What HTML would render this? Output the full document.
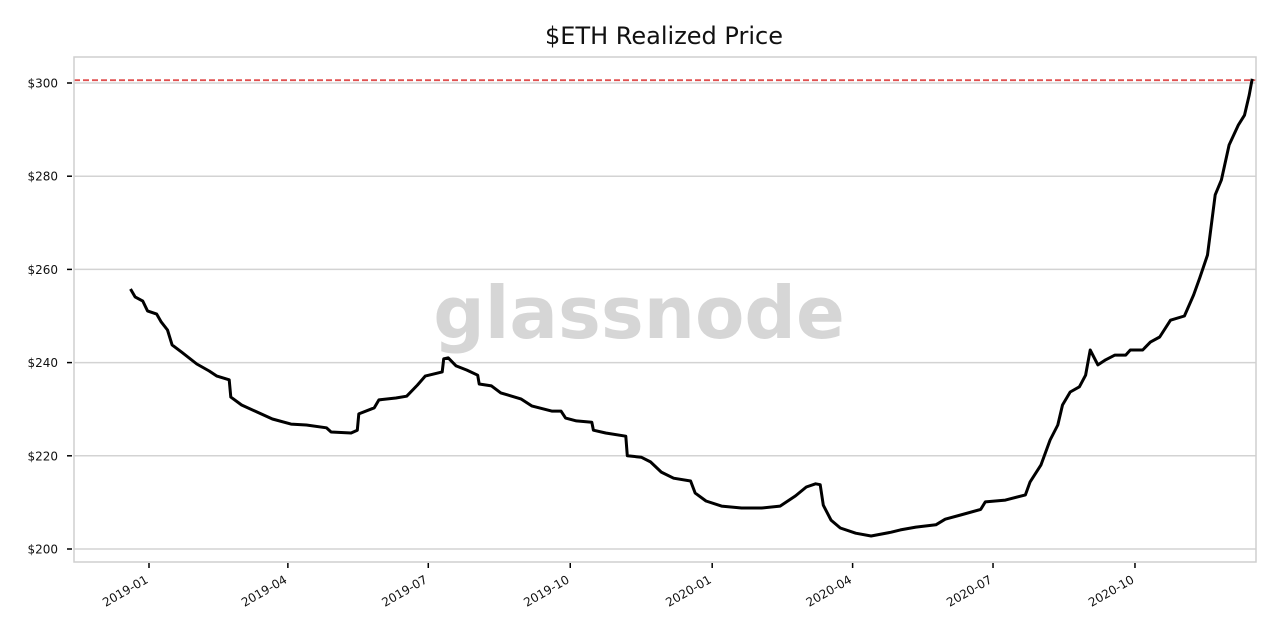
<!DOCTYPE html>
<html><head><meta charset="utf-8"><style>
body{margin:0;background:#fff;}
svg{display:block;font-family:"DejaVu Sans","Liberation Sans",sans-serif;}
</style></head><body>
<svg id="chart" width="1280" height="640">
<rect x="0" y="0" width="1280" height="640" fill="#fff"/>
<text x="664" y="44" text-anchor="middle" font-size="24" fill="#111">$ETH Realized Price</text>
<text x="639" y="338" text-anchor="middle" font-size="72" font-weight="bold" fill="#d6d6d6" font-family="DejaVu Sans,sans-serif">glassnode</text>
<g id="grid"></g>
<g id="xaxis"></g>
<g id="yaxis"></g>
<g id="series"></g>
<rect x="74" y="57" width="1182" height="505" fill="none" stroke="#cfcfcf" stroke-width="1.5"/>
</svg>
<script>
const days=[-12,-9,-4,-1,5,8,12,15,21,31,39,44,52,53,60,70,80,92,102,115,118,131,135,136,146,149,160,167,174,179,190,191,194,199,206,213,214,222,228,241,248,261,267,270,277,287,288,296,309,310,319,325,332,340,351,354,361,371,384,397,409,419,426,432,435,437,442,448,458,468,481,487,497,510,516,526,539,542,555,568,571,578,584,589,592,597,603,607,610,615,620,626,633,636,644,649,655,662,671,677,681,686,691,695,700,706,710,713,715];
const prices=[255.8,254.1,253.2,251.1,250.4,248.7,247,243.8,242.3,239.7,238.2,237.1,236.3,232.6,230.9,229.4,227.9,226.8,226.6,226,225.1,224.9,225.5,229,230.3,232,232.4,232.8,235.2,237.1,238,240.8,241,239.3,238.4,237.3,235.4,235,233.5,232.2,230.7,229.6,229.6,228.1,227.5,227.2,225.5,224.9,224.2,220,219.7,218.7,216.5,215.2,214.6,212,210.3,209.2,208.8,208.8,209.2,211.4,213.3,214,213.8,209.4,206.2,204.5,203.4,202.8,203.6,204.1,204.7,205.2,206.4,207.3,208.5,210.1,210.5,211.6,214.4,218,223.4,226.6,230.9,233.7,234.8,237.3,242.7,239.5,240.6,241.6,241.6,242.7,242.7,244.4,245.5,249.1,250,254.5,258.2,263.1,276,279.2,286.7,291,293.1,297.4,300.9];
const yTicks=[200,220,240,260,280,300];
const xTickDays=[0,90,181,273,365,456,547,639];
const xTickLabels=["2019-01","2019-04","2019-07","2019-10","2020-01","2020-04","2020-07","2020-10"];
const refLevel=[300.6];
const NS="http://www.w3.org/2000/svg";
const X=d=>149+d*1.543;
const Y=v=>549-(v-200)*4.66;
function mk(tag,attrs,parent){const e=document.createElementNS(NS,tag);for(const k in attrs)e.setAttribute(k,attrs[k]);document.getElementById(parent).appendChild(e);return e;}
yTicks.forEach(v=>{
 const g=mk('line',{x1:74,x2:1256,y1:Y(v),y2:Y(v),stroke:'#d3d3d3','stroke-width':1.5},'grid');
 
 
 const t=mk('line',{x1:67,x2:72,y1:Y(v),y2:Y(v),stroke:'#000','stroke-width':1.5},'yaxis');
 
 
 const l=mk('text',{x:58,y:Y(v)+4.5,'text-anchor':'end','font-size':12,fill:'#111'},'yaxis');
 l.textContent='$'+v;
 
 
});
xTickDays.forEach((d,i)=>{
 const x=X(d);
 const t=mk('line',{x1:x,x2:x,y1:563,y2:568,stroke:'#000','stroke-width':1.5},'xaxis');
 
 
 const l=mk('text',{x:x,y:582,'text-anchor':'end','font-size':12,fill:'#111',transform:`rotate(-30 ${x} 582)`},'xaxis');
 l.textContent=xTickLabels[i];
 
 
});
const ref=mk('line',{x1:74,x2:1256,y1:Y(refLevel[0]),y2:Y(refLevel[0]),stroke:'#e05050','stroke-width':1.8,'stroke-dasharray':'6,3'},'series');


const p=mk('path',{d:days.map((d,i)=>(i?'L':'M')+X(d).toFixed(1)+','+Y(prices[i]).toFixed(1)).join(''),fill:'none',stroke:'#000','stroke-width':3,'stroke-linejoin':'round'},'series');


</script>
</body></html>
